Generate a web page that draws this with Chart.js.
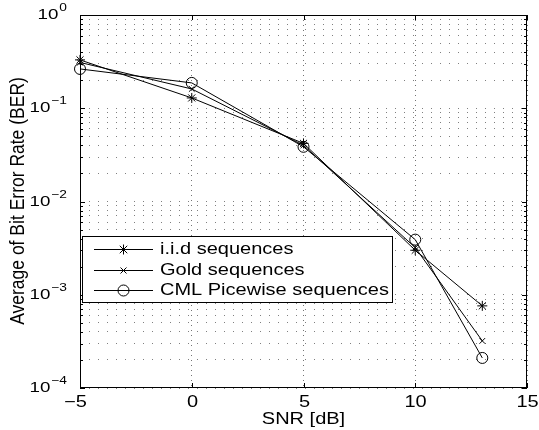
<!DOCTYPE html>
<html>
<head>
<meta charset="utf-8">
<script src="https://cdn.jsdelivr.net/npm/chart.js@4/dist/chart.umd.min.js"></script>
<style>
  body { margin: 0; background: #fff; }
  canvas { display: block; }
</style>
</head>
<body>
<canvas id="ber" width="539" height="430"></canvas>
<script>
// values
var snr = [-5, 0, 5, 10, 13];
var berIid = [0.33, 0.129, 0.042, 0.0030, 0.00076];
var berGold = [0.31, 0.161, 0.040, 0.0032, 0.00032];
var berCml = [0.264, 0.187, 0.0386, 0.0039, 0.00021];
var seriesNames = ["i.i.d sequences", "Gold sequences", "CML Picewise sequences"];
var markers = ["star", "crossRot", "circle"];
var xTicks = [-5, 0, 5, 10, 15];
var yExponents = [-4, -3, -2, -1, 0];

var font = "Liberation Sans, Arial, Helvetica, sans-serif";
var stretch = 1.25; // text in the original is a bit wide

function pts(ys) {
  var out = [];
  for (var i = 0; i < snr.length; i++) out.push({ x: snr[i], y: ys[i] });
  return out;
}

// text drawn a little wider than normal
function wideText(ctx, txt, x, y) {
  ctx.save();
  ctx.translate(x, y);
  ctx.scale(stretch, 1);
  ctx.fillText(txt, 0, 0);
  ctx.restore();
}

function drawMarker(ctx, style, x, y) {
  ctx.beginPath();
  if (style == "circle") {
    ctx.arc(x, y, 5.5, 0, Math.PI * 2);
  } else {
    var r = style == "star" ? 5 : 4;
    var d = r * 0.75;
    ctx.moveTo(x - d, y - d); ctx.lineTo(x + d, y + d);
    ctx.moveTo(x - d, y + d); ctx.lineTo(x + d, y - d);
    if (style == "star") {
      ctx.moveTo(x - r, y); ctx.lineTo(x + r, y);
      ctx.moveTo(x, y - r); ctx.lineTo(x, y + r);
    }
  }
  ctx.stroke();
}

var axesPlugin = {
  id: "axesPlugin",
  afterDraw: function (chart) {
    var ctx = chart.ctx;
    var a = chart.chartArea;
    var xs = chart.scales.x, ys = chart.scales.y;
    ctx.save();
    ctx.strokeStyle = "#000";
    ctx.fillStyle = "#000";
    ctx.lineWidth = 1;

    // box
    ctx.strokeRect(Math.round(a.left) + 0.5, Math.round(a.top) + 0.5,
      Math.round(a.right - a.left) - 1, Math.round(a.bottom - a.top) - 1);

    // x ticks (inward, bottom and top) + labels
    ctx.font = "16px " + font;
    ctx.textAlign = "center";
    ctx.textBaseline = "middle";
    xTicks.forEach(function (v) {
      var px = Math.round(xs.getPixelForValue(v)) + 0.5;
      ctx.beginPath();
      ctx.moveTo(px, a.bottom); ctx.lineTo(px, a.bottom - 5);
      ctx.moveTo(px, a.top); ctx.lineTo(px, a.top + 5);
      ctx.stroke();
      var txt = v < 0 ? "\u2212" + (-v) : String(v);
      wideText(ctx, txt, v < 0 ? px - 5 : px, a.bottom + 15);
    });

    // y ticks (major and minor, inward on both sides) + labels
    yExponents.forEach(function (e) {
      for (var m = 1; m < 10; m++) {
        var v = m * Math.pow(10, e);
        if (v > 1) break;
        var py = Math.round(ys.getPixelForValue(v)) + 0.5;
        var len = m == 1 ? 5 : 3;
        ctx.beginPath();
        ctx.moveTo(a.left, py); ctx.lineTo(a.left + len, py);
        ctx.moveTo(a.right, py); ctx.lineTo(a.right - len, py);
        ctx.stroke();
      }
      var y0 = ys.getPixelForValue(Math.pow(10, e));
      var ex = e < 0 ? "\u2212" + (-e) : String(e);
      ctx.textAlign = "right";
      ctx.font = "11px " + font;
      var ew = ctx.measureText(ex).width * stretch;
      wideText(ctx, ex, 67, y0 - 7);
      ctx.font = "15px " + font;
      wideText(ctx, "10", 67 - ew - 1, y0);
    });

    // axis titles
    ctx.textAlign = "center";
    ctx.font = "16px " + font;
    wideText(ctx, "SNR [dB]", (a.left + a.right) / 2, 420);
    ctx.save();
    ctx.translate(18, 201);
    ctx.rotate(-Math.PI / 2);
    ctx.scale(1, 1.15);
    ctx.font = "17.5px " + font;
    ctx.fillText("Average of Bit Error Rate (BER)", 0, 0);
    ctx.restore();

    // legend
    var lx = 82, ly = 236, lw = 310, lh = 66;
    ctx.fillStyle = "#fff";
    ctx.fillRect(lx, ly, lw, lh);
    ctx.strokeRect(lx + 0.5, ly + 0.5, lw, lh);
    ctx.fillStyle = "#000";
    ctx.font = "16px " + font;
    ctx.textAlign = "left";
    chart.data.datasets.forEach(function (ds, i) {
      var ry = Math.round(ly + 13 + i * 20.5) + 0.5;
      ctx.beginPath();
      ctx.moveTo(94, ry); ctx.lineTo(153, ry);
      ctx.stroke();
      drawMarker(ctx, markers[i], 123.5, ry);
      wideText(ctx, ds.label, 160, ry);
    });
    ctx.restore();
  }
};

function makeSet(i, ys) {
  return {
    label: seriesNames[i],
    data: pts(ys),
    borderColor: "#000",
    backgroundColor: "rgba(0,0,0,0)",
    borderWidth: 1,
    pointStyle: markers[i],
    pointRadius: i == 2 ? 5.5 : (i == 0 ? 5 : 4),
    pointBorderColor: "#000",
    pointBorderWidth: 1,
    tension: 0,
    clip: false
  };
}

new Chart(document.getElementById("ber"), {
  type: "line",
  data: {
    datasets: [makeSet(0, berIid), makeSet(1, berGold), makeSet(2, berCml)]
  },
  options: {
    responsive: false,
    animation: false,
    layout: { padding: { left: 80, top: 15, right: 12, bottom: 42 } },
    plugins: { legend: { display: false }, tooltip: { enabled: false } },
    scales: {
      x: {
        type: "linear",
        min: -5,
        max: 15,
        afterBuildTicks: function (axis) {
          axis.ticks = xTicks.map(function (v) { return { value: v }; });
        },
        ticks: { display: false },
        grid: { color: "rgba(0,0,0,0.55)", lineWidth: 1, drawTicks: false },
        border: { display: false, dash: [1, 4] }
      },
      y: {
        type: "logarithmic",
        min: 1e-4,
        max: 1,
        afterBuildTicks: function (axis) {
          var t = [];
          yExponents.forEach(function (e) {
            for (var m = 1; m < 10; m++) {
              var v = m * Math.pow(10, e);
              if (v <= 1) t.push({ value: v });
            }
          });
          axis.ticks = t;
        },
        ticks: { display: false },
        grid: { color: "rgba(0,0,0,0.5)", lineWidth: 1, drawTicks: false },
        border: { display: false, dash: [1, 8] }
      }
    }
  },
  plugins: [axesPlugin]
});
</script>
</body>
</html>
